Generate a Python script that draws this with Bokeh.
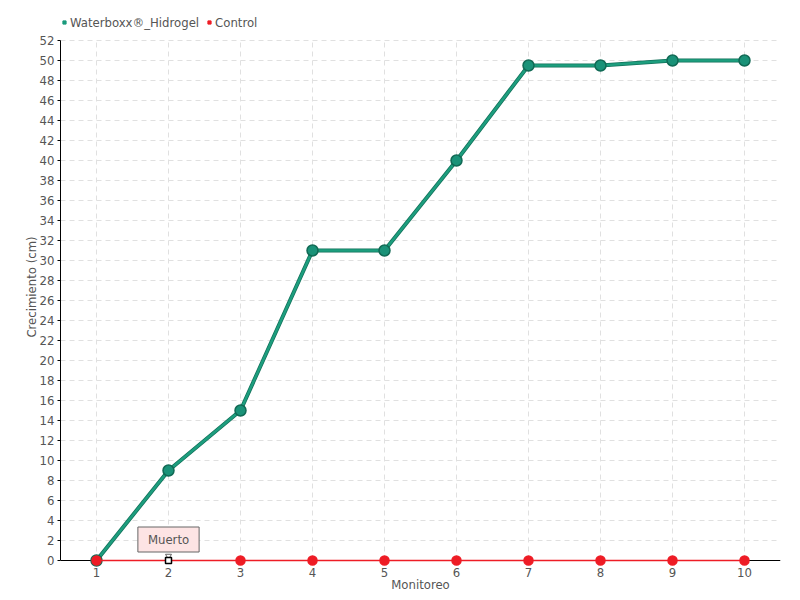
from bokeh.plotting import figure
from bokeh.models import Legend, LegendItem, Label, FixedTicker, Range1d, ColumnDataSource, Span
from bokeh.embed import file_html
from bokeh.resources import INLINE

monitoreo = [1, 2, 3, 4, 5, 6, 7, 8, 9, 10]
waterboxx = [0, 9, 15, 31, 31, 40, 49.5, 49.5, 50, 50]
control = [0, 0, 0, 0, 0, 0, 0, 0, 0, 0]
control_marker = ["circle", "square", "circle", "circle", "circle", "circle", "circle", "circle", "circle", "circle"]
control_fill = ["#ee1c25", "#ffffff", "#ee1c25", "#ee1c25", "#ee1c25", "#ee1c25", "#ee1c25", "#ee1c25", "#ee1c25", "#ee1c25"]
control_edge = ["#ee1c25", "#000000", "#ee1c25", "#ee1c25", "#ee1c25", "#ee1c25", "#ee1c25", "#ee1c25", "#ee1c25", "#ee1c25"]
control_size = [9, 6, 9, 9, 9, 9, 9, 9, 9, 9]
y_ticks = list(range(0, 53, 2))
note_text = "Muerto"
note_index = 1

FONT = "DejaVu Sans Condensed, DejaVu Sans"
TXT = "#555555"
GRID = "#e0e0e0"

p = figure(width=790, height=596, output_backend="svg", toolbar_location=None,
           x_range=Range1d(0.5, 10.5), y_range=Range1d(-0.9, 55.6),
           min_border_left=60, min_border_right=10, min_border_top=4, min_border_bottom=27)
p.outline_line_color = None

p.xaxis.ticker = FixedTicker(ticks=monitoreo)
p.yaxis.ticker = FixedTicker(ticks=y_ticks)
p.yaxis.bounds = (y_ticks[0], y_ticks[-1])
for ax in (p.xaxis, p.yaxis):
    ax.axis_line_color = "#000000"
    ax.major_label_text_font = FONT
    ax.major_label_text_font_size = "13px"
    ax.major_label_text_color = TXT
    ax.axis_label_text_font = FONT
    ax.axis_label_text_font_size = "13px"
    ax.axis_label_text_color = TXT
    ax.axis_label_text_font_style = "normal"
    ax.minor_tick_line_color = None
p.xaxis.axis_line_color = None
p.xaxis.major_tick_line_color = None
p.xaxis.major_label_standoff = -8
p.xaxis.axis_label = "Monitoreo"
p.xaxis.axis_label_standoff = -3
p.yaxis.axis_label = "Crecimiento (cm)"
p.yaxis.major_tick_in = 0
p.yaxis.major_tick_out = 3
p.yaxis.major_label_standoff = 3
p.yaxis.axis_label_standoff = -2

p.ygrid.grid_line_color = GRID
p.ygrid.grid_line_dash = "5 4"
p.xgrid.grid_line_color = None
p.segment(x0=monitoreo, y0=[y_ticks[0]] * len(monitoreo), x1=monitoreo, y1=[y_ticks[-1]] * len(monitoreo),
          line_color=GRID, line_dash="5 4", line_width=1)
p.add_layout(Span(location=y_ticks[0], dimension="width", line_color="#000000", line_width=1, level="underlay"))

# Waterboxx series
p.line(monitoreo, waterboxx, line_color="#12705a", line_width=4)
p.line(monitoreo, waterboxx, line_color="#1d9e7e", line_width=2.5)
p.scatter(monitoreo, waterboxx, size=11, fill_color="#1a9278", line_color="#116a55", line_width=1.5)

# Control series
p.line(monitoreo, control, line_color="#ee1c25", line_width=1.5)
src = ColumnDataSource(dict(x=monitoreo, y=control, m=control_marker, f=control_fill, e=control_edge, s=control_size))

# Note
lab = Label(x=monitoreo[note_index], y=control[note_index], text=note_text, x_offset=0, y_offset=21,
            text_align="center", text_baseline="middle", text_font=FONT, text_font_size="13px",
            text_color=TXT, background_fill_color="#fde4e4", border_line_color="#666666",
            padding=(10, 5))
p.add_layout(lab)
p.scatter([monitoreo[note_index]], [control[note_index] + 0.45], marker="inverted_triangle", size=6,
          fill_color="#ffffff", line_color="#666666", line_width=1)
p.scatter("x", "y", source=src, marker="m", size="s", fill_color="f", line_color="e", line_width=1.5)

# Legend (hidden proxy renderers give square swatches)
r1 = p.scatter(monitoreo, waterboxx, marker="square", size=7, fill_color="#1a9a7c", line_color="#1a9a7c", visible=False)
r2 = p.scatter(monitoreo, control, marker="square", size=7, fill_color="#ee1c25", line_color="#ee1c25", visible=False)
leg = Legend(items=[LegendItem(label="Waterboxx®_Hidrogel", renderers=[r1]),
                    LegendItem(label="Control", renderers=[r2])],
             orientation="horizontal", location=(0, 539), border_line_color=None,
             background_fill_alpha=0, label_text_font=FONT, label_text_font_size="13px",
             label_text_color=TXT, glyph_width=8, glyph_height=8, label_standoff=2,
             spacing=6, padding=0, margin=0, label_height=16,
             inactive_fill_alpha=0)
p.add_layout(leg)

open("out.html", "w").write(file_html(p, INLINE))
